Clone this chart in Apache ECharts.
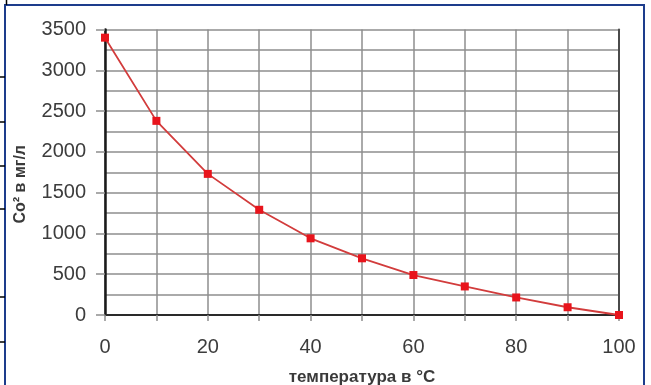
<!DOCTYPE html>
<html>
<head>
<meta charset="utf-8">
<script src="https://cdn.jsdelivr.net/npm/echarts@6/dist/echarts.min.js"></script>
<style>
  html, body { margin: 0; padding: 0; background: #fff; }
  #chart { width: 651px; height: 385px; }
</style>
</head>
<body>
<div id="chart"></div>
<script>
// температура, °C
const temps = [0, 10, 20, 30, 40, 50, 60, 70, 80, 90, 100];
// CO2, мг/л
const co2 = [3400, 2380, 1730, 1290, 940, 695, 490, 350, 215, 95, 0];

const labelFont = { color: '#3c3c3c', fontSize: 20, fontFamily: 'Liberation Sans, Arial, sans-serif' };
const nameFont = { color: '#3a3a3a', fontWeight: 'bold', fontFamily: 'Liberation Sans, Arial, sans-serif' };
const gridLine = { color: '#8e8e8e', width: 1.5 };

// table lines peeking out at the left edge of the scan
const sideLines = [77, 122, 166, 209, 297, 342].map((y) => ({
  type: 'line',
  shape: { x1: 0, y1: y, x2: 5, y2: y },
  style: { stroke: '#000', lineWidth: 1.5 },
}));

const chart = echarts.init(document.getElementById('chart'));
chart.setOption({
  animation: false,
  grid: { left: 105, right: 32, top: 29.5, bottom: 70, outerBoundsMode: 'none', containLabel: false },
  graphic: [
    {
      type: 'rect',
      shape: { x: 5, y: 5, width: 639, height: 400 },
      style: { fill: 'none', stroke: '#1d3c8c', lineWidth: 2 },
    },
    {
      type: 'line',
      shape: { x1: 6.5, y1: 0, x2: 6.5, y2: 5 },
      style: { stroke: '#000', lineWidth: 1.5 },
    },
    ...sideLines,
  ],
  xAxis: {
    type: 'value',
    min: 0,
    max: 100,
    interval: 10,
    name: 'температура в °C',
    nameLocation: 'middle',
    nameGap: 54,
    nameTextStyle: { ...nameFont, fontSize: 17 },
    axisLine: { lineStyle: { color: '#2a2a2a', width: 2 } },
    axisTick: { show: true, length: 6, lineStyle: { color: '#8e8e8e', width: 1.5 } },
    axisLabel: {
      ...labelFont,
      margin: 22,
      formatter: (v) => (v % 20 === 0 ? String(v) : ''),
    },
    splitLine: { show: true, lineStyle: gridLine },
  },
  yAxis: [
    {
      type: 'value',
      min: 0,
      max: 3500,
      interval: 500,
      name: 'Co² в мг/л',
      nameLocation: 'middle',
      nameGap: 76,
      nameTextStyle: { ...nameFont, fontSize: 16, padding: [0, 24, 0, 0] },
      axisLine: { show: true, lineStyle: { color: '#1a1a1a', width: 2.5 } },
      axisTick: { show: true, length: 9, lineStyle: { color: '#8e8e8e', width: 1.5 } },
      axisLabel: { ...labelFont, margin: 19, formatter: (v) => String(v) },
      splitLine: { show: true, lineStyle: gridLine },
      minorTick: { show: false, splitNumber: 2 },
      minorSplitLine: { show: true, lineStyle: gridLine },
    },
    {
      type: 'value',
      min: 0,
      max: 3500,
      position: 'right',
      axisLine: { show: true, lineStyle: { color: '#4a4a4a', width: 2 } },
      axisTick: { show: false },
      axisLabel: { show: false },
      splitLine: { show: false },
    },
  ],
  series: [
    {
      type: 'line',
      data: temps.map((t, i) => [t, co2[i]]),
      symbol: 'rect',
      symbolSize: 8,
      lineStyle: { color: '#d23c3c', width: 1.8 },
      itemStyle: { color: '#e8141c' },
    },
  ],
});
</script>
</body>
</html>
